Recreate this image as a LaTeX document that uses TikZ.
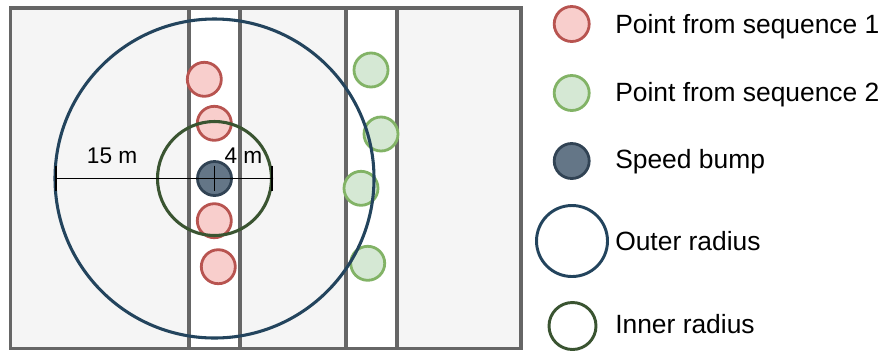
\documentclass[tikz,border=0pt]{standalone}
\usepackage{fontspec}
\setmainfont{Liberation Sans}
\definecolor{roadgray}{HTML}{666666}
\definecolor{roadfill}{HTML}{F5F5F5}
\definecolor{redfill}{HTML}{F8CECC}
\definecolor{redline}{HTML}{B85450}
\definecolor{greenfill}{HTML}{D5E8D4}
\definecolor{greenline}{HTML}{82B366}
\definecolor{bumpfill}{HTML}{647687}
\definecolor{bumpline}{HTML}{314354}
\definecolor{outerline}{HTML}{23445D}
\definecolor{innerline}{HTML}{3A5431}
\tikzset{
  roadline/.style={draw=roadgray, line width=2.6pt},
  pt/.style={circle, inner sep=0pt, minimum size={34*0.75pt}, line width=2.1pt},
  seqone/.style={pt, draw=redline, fill=redfill},
  seqtwo/.style={pt, draw=greenline, fill=greenfill},
  bump/.style={pt, draw=bumpline, fill=bumpfill},
  outerc/.style={circle, inner sep=0pt, draw=outerline, line width=2.3pt},
  innerc/.style={circle, inner sep=0pt, draw=innerline, line width=2.3pt},
  dimline/.style={draw=black, line width=1.2pt},
  tickline/.style={draw=black, line width=1.4pt},
  dimlabel/.style={inner sep=0pt, anchor=base west, font=\fontsize{17}{20}\selectfont},
  legendtext/.style={inner sep=0pt, anchor=base west, font=\fontsize{19.8}{24}\selectfont}
}
\begin{document}
\begin{tikzpicture}[x=0.75pt, y=-0.75pt]
\useasboundingbox (0,0) rectangle (887,351);
\fill[white] (0,0) rectangle (887,351);
% road
\fill[roadfill] (10.7,7.8) rectangle (521,348.5);
\fill[white] (189,7.8) rectangle (240,348.5);
\fill[white] (346,7.8) rectangle (397,348.5);
\draw[roadline] (189,7.8) -- (189,348.5);
\draw[roadline] (240,7.8) -- (240,348.5);
\draw[roadline] (346,7.8) -- (346,348.5);
\draw[roadline] (397,7.8) -- (397,348.5);
\draw[roadline] (10.7,7.8) rectangle (521,348.5);
% points of sequence 1
\node[seqone] (r1) at (204.3,79.3) {};
\node[seqone] (r2) at (214.3,123.3) {};
\node[seqone] (r3) at (214.3,220.7) {};
\node[seqone] (r4) at (218.3,266.7) {};
% points of sequence 2
\node[seqtwo] (g1) at (371,70) {};
\node[seqtwo] (g2) at (381,134) {};
\node[seqtwo] (g3) at (361,188.3) {};
\node[seqtwo] (g4) at (367.7,263.3) {};
% speed bump
\node[bump] (bump) at (214.5,178.5) {};
% radii
\node[outerc, minimum size={319*0.75pt}] (outer) at (214.5,178.5) {};
\node[innerc, minimum size={114*0.75pt}] (inner) at (214.5,178.5) {};
% dimension line
\coordinate (dl) at (55.7,178.4);
\coordinate (dr) at (271.7,178.4);
\coordinate (dlt) at (55.7,165.5);
\coordinate (dlb) at (55.7,191);
\coordinate (drt) at (271.7,165.5);
\coordinate (drb) at (271.7,191);
\coordinate (ct) at (214.5,165.5);
\coordinate (cb) at (214.5,191);
\draw[dimline] (dl) -- (dr);
\draw[tickline] (dlt) -- (dlb);
\draw[tickline] (drt) -- (drb);
\draw[tickline] (ct) -- (cb);
\node[dimlabel] (l15) at (86.7,163.3) {15 m};
\node[dimlabel] (l4) at (224.3,163.3) {4 m};
% legend
\node[seqone, minimum size={35*0.75pt}] (k1) at (571.7,24) {};
\node[seqtwo, minimum size={35*0.75pt}] (k2) at (571.7,93) {};
\node[bump, minimum size={35*0.75pt}] (k3) at (571.7,161) {};
\node[outerc, minimum size={71*0.75pt}, line width=2.2pt] (k4) at (572,241) {};
\node[innerc, minimum size={47*0.75pt}, line width=2.2pt] (k5) at (572.5,326) {};
\node[legendtext] (t1) at (615,33.3) {Point from sequence 1};
\node[legendtext] (t2) at (615,101.7) {Point from sequence 2};
\node[legendtext] (t3) at (615,168) {Speed bump};
\node[legendtext] (t4) at (615,250) {Outer radius};
\node[legendtext] (t5) at (615,333) {Inner radius};
\end{tikzpicture}
\end{document}
